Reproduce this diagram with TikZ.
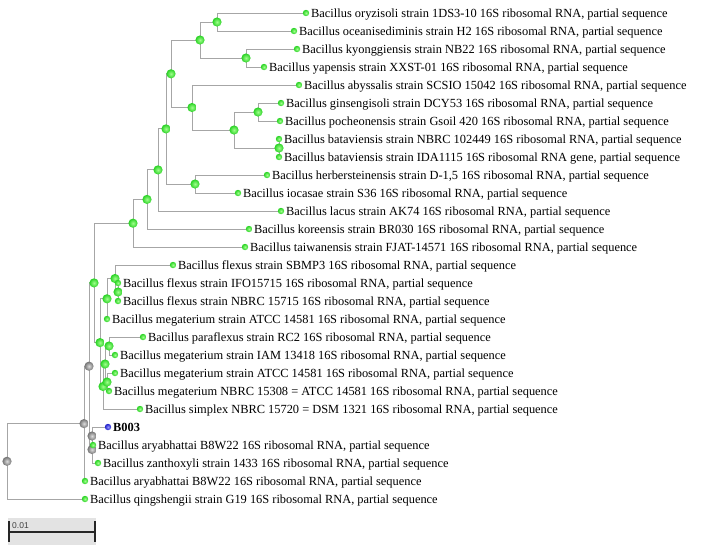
\documentclass[tikz,border=0pt]{standalone}
\usepackage{fontspec}
\setmainfont{Liberation Serif}
\newfontfamily\barfont{Liberation Sans}
\usetikzlibrary{backgrounds}

\definecolor{greenin}{RGB}{160,255,140}
\definecolor{greenout}{RGB}{40,210,35}
\definecolor{grayin}{RGB}{220,220,220}
\definecolor{grayout}{RGB}{115,115,115}
\definecolor{bluein}{RGB}{150,150,255}
\definecolor{blueout}{RGB}{30,30,200}

\tikzset{
    branch/.style={draw=gray!70, line width=0.9pt},
    inode/.style={circle, inner sep=0pt, minimum size=9.2pt, inner color=greenin, outer color=greenout},
    qnode/.style={circle, inner sep=0pt, minimum size=9.2pt, inner color=grayin, outer color=grayout},
    tip/.style={circle, inner sep=0pt, minimum size=6.4pt, inner color=greenin, outer color=greenout},
    qtip/.style={circle, inner sep=0pt, minimum size=6.4pt, inner color=bluein, outer color=blueout},
    leaf/.style={anchor=base west, inner sep=0pt, xshift=5pt, yshift=-4.3pt, font=\fontsize{12.4}{14}\selectfont}
}

\begin{document}
\begin{tikzpicture}[x=1pt, y=-1pt]
    \useasboundingbox (0,0) rectangle (708,547);

    \node [qnode] (root) at (7,461.3) {};
    \node [qnode] (qa) at (84,423.6) {};
    \node [qnode] (qb) at (89,366.2) {};
    \node [qnode] (qd) at (92,449.5) {};
    \node [qnode] (qc) at (92,436) {};
    \node [inode] (d) at (94,282.9) {};
    \node [inode] (e) at (133,223.2) {};
    \node [inode] (h) at (147,199.4) {};
    \node [inode] (i) at (158,169.9) {};
    \node [inode] (j) at (166,128.9) {};
    \node [inode] (k) at (171,73.8) {};
    \node [inode] (m) at (200,40) {};
    \node [inode] (o) at (217,22) {};
    \node [inode] (p) at (246,58) {};
    \node [inode] (n) at (192,107.5) {};
    \node [inode] (q) at (234,130) {};
    \node [inode] (r) at (258,112) {};
    \node [inode] (s) at (279,148) {};
    \node [inode] (l) at (195,184) {};
    \node [inode] (g) at (100,342.6) {};
    \node [inode] (v) at (107,298.8) {};
    \node [inode] (u) at (115,278.5) {};
    \node [inode] (t) at (118,292) {};
    \node [inode] (w) at (103,386.5) {};
    \node [inode] (x) at (105,364) {};
    \node [inode] (y) at (109,346) {};
    \node [inode] (z) at (107,382) {};

    \node [tip] (t1) at (306,13) {};
    \node [tip] (t2) at (294,31) {};
    \node [tip] (t3) at (297,49) {};
    \node [tip] (t4) at (264,67) {};
    \node [tip] (t5) at (299,85) {};
    \node [tip] (t6) at (281,103) {};
    \node [tip] (t7) at (280,121) {};
    \node [tip] (t8) at (279,139) {};
    \node [tip] (t9) at (279,157) {};
    \node [tip] (t10) at (267,175) {};
    \node [tip] (t11) at (238,193) {};
    \node [tip] (t12) at (281,211) {};
    \node [tip] (t13) at (249,229) {};
    \node [tip] (t14) at (245,247) {};
    \node [tip] (t15) at (173,265) {};
    \node [tip] (t16) at (118,283) {};
    \node [tip] (t17) at (118,301) {};
    \node [tip] (t18) at (107,319) {};
    \node [tip] (t19) at (143,337) {};
    \node [tip] (t20) at (115,355) {};
    \node [tip] (t21) at (115,373) {};
    \node [tip] (t22) at (109,391) {};
    \node [tip] (t23) at (140,409) {};
    \node [qtip] (t24) at (108,427) {};
    \node [tip] (t25) at (93,445) {};
    \node [tip] (t26) at (98,463) {};
    \node [tip] (t27) at (85,481) {};
    \node [tip] (t28) at (85,499) {};

    \node [leaf] (l1) at (t1) {Bacillus oryzisoli strain 1DS3-10 16S ribosomal RNA, partial sequence};
    \node [leaf] (l2) at (t2) {Bacillus oceanisediminis strain H2 16S ribosomal RNA, partial sequence};
    \node [leaf] (l3) at (t3) {Bacillus kyonggiensis strain NB22 16S ribosomal RNA, partial sequence};
    \node [leaf] (l4) at (t4) {Bacillus yapensis strain XXST-01 16S ribosomal RNA, partial sequence};
    \node [leaf] (l5) at (t5) {Bacillus abyssalis strain SCSIO 15042 16S ribosomal RNA, partial sequence};
    \node [leaf] (l6) at (t6) {Bacillus ginsengisoli strain DCY53 16S ribosomal RNA, partial sequence};
    \node [leaf] (l7) at (t7) {Bacillus pocheonensis strain Gsoil 420 16S ribosomal RNA, partial sequence};
    \node [leaf] (l8) at (t8) {Bacillus bataviensis strain NBRC 102449 16S ribosomal RNA, partial sequence};
    \node [leaf] (l9) at (t9) {Bacillus bataviensis strain IDA1115 16S ribosomal RNA gene, partial sequence};
    \node [leaf] (l10) at (t10) {Bacillus herbersteinensis strain D-1,5 16S ribosomal RNA, partial sequence};
    \node [leaf] (l11) at (t11) {Bacillus iocasae strain S36 16S ribosomal RNA, partial sequence};
    \node [leaf] (l12) at (t12) {Bacillus lacus strain AK74 16S ribosomal RNA, partial sequence};
    \node [leaf] (l13) at (t13) {Bacillus koreensis strain BR030 16S ribosomal RNA, partial sequence};
    \node [leaf] (l14) at (t14) {Bacillus taiwanensis strain FJAT-14571 16S ribosomal RNA, partial sequence};
    \node [leaf] (l15) at (t15) {Bacillus flexus strain SBMP3 16S ribosomal RNA, partial sequence};
    \node [leaf] (l16) at (t16) {Bacillus flexus strain IFO15715 16S ribosomal RNA, partial sequence};
    \node [leaf] (l17) at (t17) {Bacillus flexus strain NBRC 15715 16S ribosomal RNA, partial sequence};
    \node [leaf] (l18) at (t18) {Bacillus megaterium strain ATCC 14581 16S ribosomal RNA, partial sequence};
    \node [leaf] (l19) at (t19) {Bacillus paraflexus strain RC2 16S ribosomal RNA, partial sequence};
    \node [leaf] (l20) at (t20) {Bacillus megaterium strain IAM 13418 16S ribosomal RNA, partial sequence};
    \node [leaf] (l21) at (t21) {Bacillus megaterium strain ATCC 14581 16S ribosomal RNA, partial sequence};
    \node [leaf] (l22) at (t22) {Bacillus megaterium NBRC 15308 = ATCC 14581 16S ribosomal RNA, partial sequence};
    \node [leaf] (l23) at (t23) {Bacillus simplex NBRC 15720 = DSM 1321 16S ribosomal RNA, partial sequence};
    \node [leaf, font=\fontsize{12.4}{14}\selectfont\bfseries] (l24) at (t24) {B003};
    \node [leaf] (l25) at (t25) {Bacillus aryabhattai B8W22 16S ribosomal RNA, partial sequence};
    \node [leaf] (l26) at (t26) {Bacillus zanthoxyli strain 1433 16S ribosomal RNA, partial sequence};
    \node [leaf] (l27) at (t27) {Bacillus aryabhattai B8W22 16S ribosomal RNA, partial sequence};
    \node [leaf] (l28) at (t28) {Bacillus qingshengii strain G19 16S ribosomal RNA, partial sequence};

    \begin{scope}[on background layer]
        \draw [branch] (root.center) |- (qa.center);
        \draw [branch] (root.center) |- (t28.center);
        \draw [branch] (qa.center) |- (qb.center);
        \draw [branch] (qa.center) |- (t27.center);
        \draw [branch] (qb.center) |- (d.center);
        \draw [branch] (qb.center) |- (qd.center);
        \draw [branch] (qd.center) |- (qc.center);
        \draw [branch] (qd.center) |- (t26.center);
        \draw [branch] (qc.center) |- (t24.center);
        \draw [branch] (qc.center) |- (t25.center);
        \draw [branch] (d.center) |- (e.center);
        \draw [branch] (d.center) |- (g.center);
        \draw [branch] (e.center) |- (h.center);
        \draw [branch] (e.center) |- (t14.center);
        \draw [branch] (h.center) |- (i.center);
        \draw [branch] (h.center) |- (t13.center);
        \draw [branch] (i.center) |- (j.center);
        \draw [branch] (i.center) |- (t12.center);
        \draw [branch] (j.center) |- (k.center);
        \draw [branch] (j.center) |- (l.center);
        \draw [branch] (k.center) |- (m.center);
        \draw [branch] (k.center) |- (n.center);
        \draw [branch] (m.center) |- (o.center);
        \draw [branch] (m.center) |- (p.center);
        \draw [branch] (o.center) |- (t1.center);
        \draw [branch] (o.center) |- (t2.center);
        \draw [branch] (p.center) |- (t3.center);
        \draw [branch] (p.center) |- (t4.center);
        \draw [branch] (n.center) |- (t5.center);
        \draw [branch] (n.center) |- (q.center);
        \draw [branch] (q.center) |- (r.center);
        \draw [branch] (q.center) |- (s.center);
        \draw [branch] (r.center) |- (t6.center);
        \draw [branch] (r.center) |- (t7.center);
        \draw [branch] (s.center) |- (t8.center);
        \draw [branch] (s.center) |- (t9.center);
        \draw [branch] (l.center) |- (t10.center);
        \draw [branch] (l.center) |- (t11.center);
        \draw [branch] (g.center) |- (v.center);
        \draw [branch] (g.center) |- (w.center);
        \draw [branch] (v.center) |- (u.center);
        \draw [branch] (v.center) |- (t18.center);
        \draw [branch] (u.center) |- (t15.center);
        \draw [branch] (u.center) |- (t.center);
        \draw [branch] (t.center) |- (t16.center);
        \draw [branch] (t.center) |- (t17.center);
        \draw [branch] (w.center) |- (x.center);
        \draw [branch] (w.center) |- (t23.center);
        \draw [branch] (x.center) |- (y.center);
        \draw [branch] (x.center) |- (z.center);
        \draw [branch] (y.center) |- (t19.center);
        \draw [branch] (y.center) |- (t20.center);
        \draw [branch] (z.center) |- (t21.center);
        \draw [branch] (z.center) |- (t22.center);
    \end{scope}

    \fill [gray!22] (8,518) rectangle (96,545);
    \draw [gray!30!black, line width=1.6pt] (9,532) -- (95,532);
    \draw [gray!30!black, line width=1.6pt] (9,521) -- (9,542);
    \draw [gray!30!black, line width=1.6pt] (95,521) -- (95,542);
    \node [anchor=base west, inner sep=0pt, text=gray!50!black, font=\barfont\fontsize{8.5}{10}\selectfont] (scale) at (12,528) {0.01};
\end{tikzpicture}
\end{document}
